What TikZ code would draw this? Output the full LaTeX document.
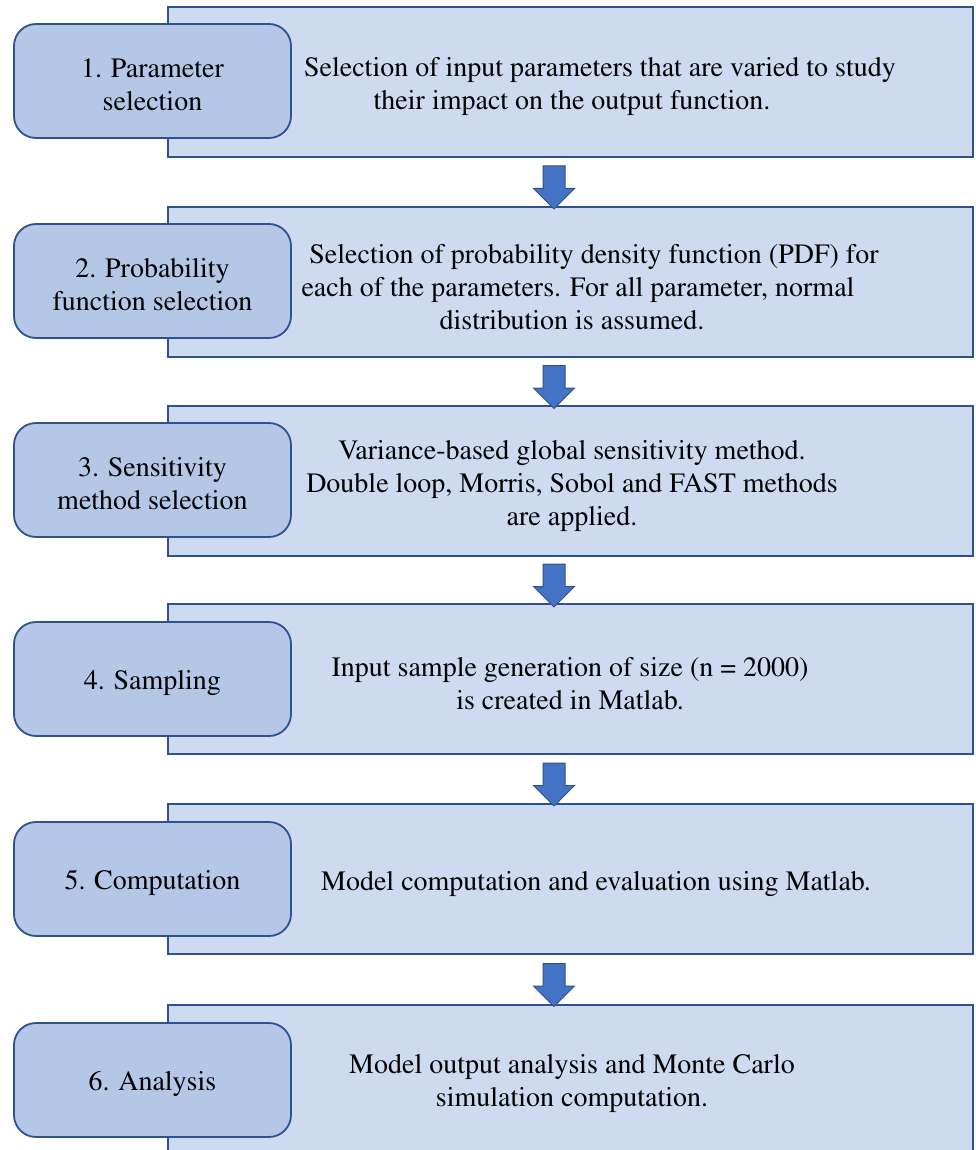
\documentclass[tikz,border=0pt]{standalone}
\usepackage[T1]{fontenc}
\usepackage{mathptmx}
\usepackage{xcolor}
\usepackage{tikz}
\usetikzlibrary{shapes.arrows,calc}

\definecolor{panelfill}{HTML}{CDDAF0}
\definecolor{stepfill}{HTML}{B4C7E7}
\definecolor{edgeblue}{HTML}{2F528F}
\definecolor{arrowblue}{HTML}{4472C4}

\newcommand{\toprow}{\rule{0pt}{27pt}}

\begin{document}
\begin{tikzpicture}[x=1pt,y=-1pt,
  panel/.style={draw=edgeblue,line width=1.4pt,fill=panelfill,minimum width=805pt,minimum height=150pt,inner sep=0pt},
  stepbox/.style={draw=edgeblue,line width=1.8pt,fill=stepfill,rounded corners=22pt,minimum width=277pt,minimum height=114pt,align=center,font=\fontsize{28}{33}\selectfont},
  desc/.style={align=center,font=\fontsize{28}{33}\selectfont,inner sep=0pt},
  blockarrow/.style={single arrow,draw=edgeblue,line width=1pt,fill=arrowblue,rotate=-90,inner xsep=0pt,inner ysep=10.5pt,single arrow head extend=9.5pt,single arrow tip angle=90,minimum height=43pt}]
\useasboundingbox (0,0) rectangle (975,1150);

\node [panel] (r1) at (570.5,82) {};
\node [panel] (r2) at (570.5,282) {};
\node [panel] (r3) at (570.5,481) {};
\node [panel] (r4) at (570.5,679) {};
\node [panel] (r5) at (570.5,879) {};
\node [panel] (r6) at (570.5,1080) {};

\node [stepbox] (s1) at (152.5,81) {\toprow 1. Parameter\\selection};
\node [stepbox] (s2) at (152.5,281) {\toprow 2. Probability\\function selection};
\node [stepbox] (s3) at (152.5,480) {\toprow 3. Sensitivity\\method selection};
\node [stepbox] (s4) at (152.5,679) {\toprow 4. Sampling};
\node [stepbox] (s5) at (152.5,879) {\toprow 5. Computation};
\node [stepbox] (s6) at (152.5,1080) {\toprow 6. Analysis};

\node [desc] (d1) at (572,87) {\hspace*{56pt}Selection of input parameters that are varied to study\\their impact on the output function.};
\node [desc] (d2) at (572,287) {\hspace*{44pt}Selection of probability density function (PDF) for\\\hspace*{12pt}each of the parameters. For all parameter, normal\\distribution is assumed.};
\node [desc] (d3) at (572,486) {Variance-based global sensitivity method.\\Double loop, Morris, Sobol and FAST methods\\are applied.};
\node [desc] (d4) at (570,684) {Input sample generation of size (n = 2000)\\is created in Matlab.};
\node [desc] (d5) at (596,884) {Model computation and evaluation using Matlab.};
\node [desc] (d6) at (572,1084) {Model output analysis and Monte Carlo\\simulation computation.};

\node [blockarrow] (a1) at ($(r1.south)!0.5!(r2.north)+(-16.5,0)$) {};
\node [blockarrow] (a2) at ($(r2.south)!0.5!(r3.north)+(-16.5,0)$) {};
\node [blockarrow] (a3) at ($(r3.south)!0.5!(r4.north)+(-16.5,0)$) {};
\node [blockarrow] (a4) at ($(r4.south)!0.5!(r5.north)+(-16.5,0)$) {};
\node [blockarrow] (a5) at ($(r5.south)!0.5!(r6.north)+(-16.5,0)$) {};

\end{tikzpicture}
\end{document}
